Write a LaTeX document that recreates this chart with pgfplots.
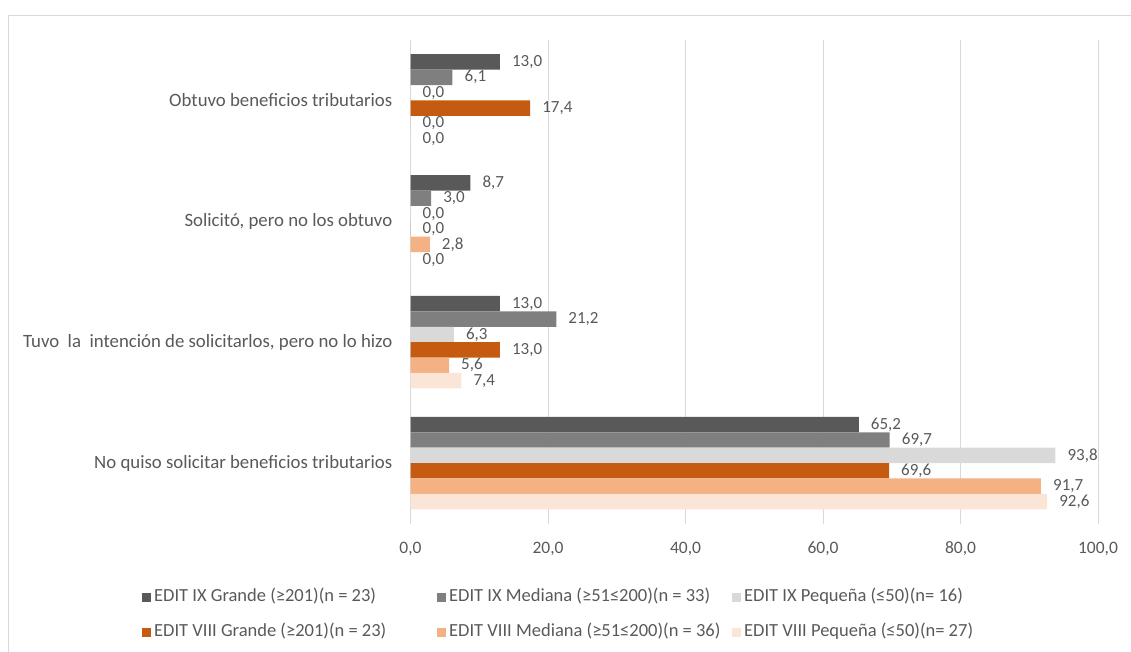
\documentclass[border=0pt]{standalone}
\usepackage{pgfplots}
\pgfplotsset{compat=1.18}
\usepackage{pgfplotstable}
\usepackage{fontspec}
\setmainfont{Carlito}

\definecolor{txt}{HTML}{595959}
\definecolor{gridc}{HTML}{D9D9D9}
\definecolor{ixG}{HTML}{595959}
\definecolor{ixM}{HTML}{7F7F7F}
\definecolor{ixP}{HTML}{D9D9D9}
\definecolor{viiiG}{HTML}{C55A11}
\definecolor{viiiM}{HTML}{F4B183}
\definecolor{viiiP}{HTML}{FBE5D6}

% one row per answer; one column per survey round and firm size
\pgfplotstableread{
cat ixG  ixM  ixP  viiiG viiiM viiiP
0   13.0 6.1  0.0  17.4  0.0   0.0
1   8.7  3.0  0.0  0.0   2.8   0.0
2   13.0 21.2 6.3  13.0  5.6   7.4
3   65.2 69.7 93.8 69.6  91.7  92.6
}\datatable

\newcommand{\fcat}{\fontsize{18.8}{21}\selectfont}
\newcommand{\flab}{\fontsize{17}{20}\selectfont}
\newcommand{\ftick}{\fontsize{17.5}{20}\selectfont}
\newcommand{\fleg}{\fontsize{18.5}{21}\selectfont}
% bar thickness in y units (one category = 1 unit)
\newcommand{\bw}{0.1274}

\begin{document}
\begin{tikzpicture}
\useasboundingbox (0pt,0pt) rectangle (1131pt,652pt);
\draw[gridc, line width=1pt] (8pt,0pt) -- (8pt,636.5pt) -- (1131pt,636.5pt);
\begin{axis}[
  at={(410.5pt,128.5pt)}, anchor=south west,
  scale only axis, width=687.5pt, height=483.5pt,
  xmin=0, xmax=100, ymin=-0.5, ymax=3.5, y dir=reverse,
  xbar, bar width=15.4pt, bar shift=0pt,
  axis line style={draw=none},
  xmajorgrids, grid style={gridc, line width=1pt},
  major tick length=0pt,
  xtick={0,20,...,100},
  ytick={0,1,2,3},
  yticklabels={Obtuvo beneficios tributarios,
               {Solicitó, pero no los obtuvo},
               {Tuvo\ \ la\ \ intención de solicitarlos, pero no lo hizo},
               No quiso solicitar beneficios tributarios},
  /pgf/number format/.cd, fixed, fixed zerofill, precision=1, use comma, assume math mode=true,
  /pgfplots/.cd,
  xticklabel style={font=\ftick, text=txt, inner sep=0pt, anchor=center, yshift=-25pt},
  yticklabel style={font=\fcat, text=txt, inner sep=0pt, anchor=east, xshift=-18pt},
  nodes near coords,
  point meta=x,
  every node near coord/.append style={font=\flab, text=txt, inner sep=0pt, anchor=west, xshift=12pt},
  legend columns=3,
  legend cell align=left,
  legend image code/.code={\fill[#1,draw=none] (0pt,-4.5pt) rectangle (9pt,4.5pt);},
  legend style={
    at={(-0.395,-0.136)}, anchor=north west, draw=none, fill=none,
    font=\fleg, text=txt, row sep=22pt,
    nodes={inner sep=0pt, text height=10pt, text depth=3pt},
    /tikz/every odd column/.append style={column sep=3pt},
    /tikz/every even column/.append style={column sep=0pt, text width=283pt, align=flush left},
  },
]
\addplot[fill=ixG, draw=none]   table[x=ixG,   y expr=\thisrow{cat}-2.5*\bw] {\datatable};
\addplot[fill=ixM, draw=none]   table[x=ixM,   y expr=\thisrow{cat}-1.5*\bw] {\datatable};
\addplot[fill=ixP, draw=none]   table[x=ixP,   y expr=\thisrow{cat}-0.5*\bw] {\datatable};
\addplot[fill=viiiG, draw=none] table[x=viiiG, y expr=\thisrow{cat}+0.5*\bw] {\datatable};
\addplot[fill=viiiM, draw=none] table[x=viiiM, y expr=\thisrow{cat}+1.5*\bw] {\datatable};
\addplot[fill=viiiP, draw=none] table[x=viiiP, y expr=\thisrow{cat}+2.5*\bw] {\datatable};
\legend{EDIT IX Grande (≥201)(n = 23),
        EDIT IX Mediana (≥51≤200)(n = 33),
        EDIT IX Pequeña (≤50)(n= 16),
        EDIT VIII Grande (≥201)(n = 23),
        EDIT VIII Mediana (≥51≤200)(n = 36),
        EDIT VIII Pequeña (≤50)(n= 27)}
\end{axis}
\end{tikzpicture}
\end{document}
